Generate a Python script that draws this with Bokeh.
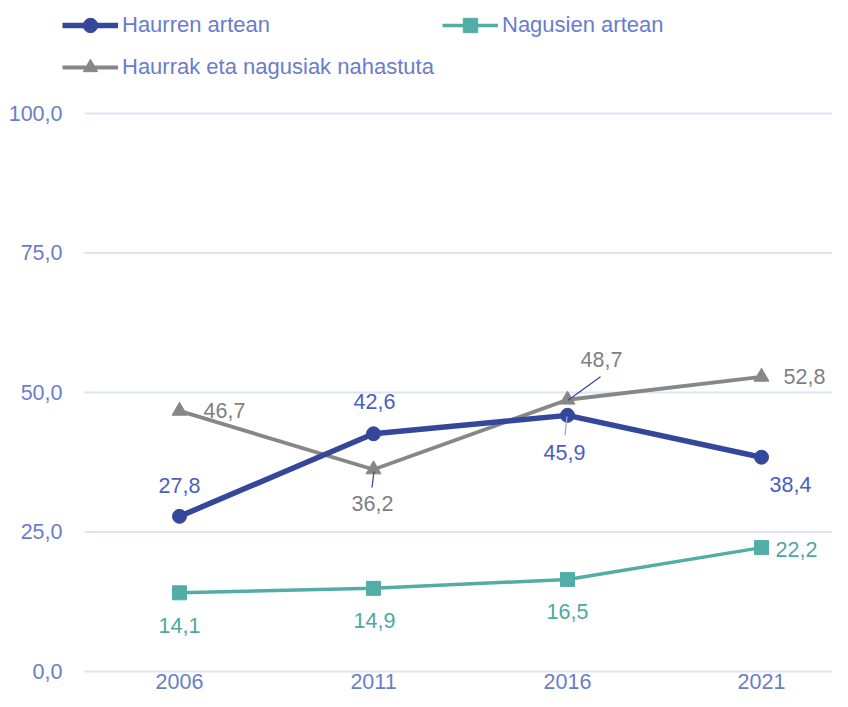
from bokeh.plotting import figure
from bokeh.models import Range1d, FixedTicker, Legend, LegendItem, ColumnDataSource
from bokeh.embed import file_html
from bokeh.resources import INLINE

# ---- data ----
years = ["2006", "2011", "2016", "2021"]
haurren = [27.8, 42.6, 45.9, 38.4]
nagusien = [14.1, 14.9, 16.5, 22.2]
nahastuta = [46.7, 36.2, 48.7, 52.8]
y_ticks = [0, 25, 50, 75, 100]
series_names = ["Haurren artean", "Nagusien artean", "Haurrak eta nagusiak nahastuta"]

# ---- styles ----
FONT = "Liberation Sans"
FS = "21.5px"
C_BLUE = "#34479a"
C_TEAL = "#52ada6"
C_GRAY = "#878787"
L_BLUE = "#4a5fbf"
L_TEAL = "#4ea9a0"
L_GRAY = "#7f7f7f"
TICK_C = "#6a7ccc"
GRID_C = "#dfe3f5"

LEFT, RIGHT, TOP, BOTTOM = 62, 0, 0, 26
FRAME_W, FRAME_H = 832 - LEFT, 673
STEP = 194.0                       # px per category
grid_x0 = -95 / STEP               # gridlines start 95px left of the first category
x0r = grid_x0 - 22 / STEP
x1r = x0r + FRAME_W / STEP
y0r, y1r = -0.36, 120.25
px_x = FRAME_W / (x1r - x0r)
px_y = FRAME_H / (y1r - y0r)

xs = list(range(len(years)))

p = figure(frame_width=FRAME_W, frame_height=FRAME_H, output_backend="svg",
           toolbar_location=None,
           x_range=Range1d(x0r, x1r), y_range=Range1d(y0r, y1r),
           min_border_left=LEFT, min_border_right=RIGHT,
           min_border_top=TOP, min_border_bottom=BOTTOM)
p.outline_line_color = None
p.background_fill_color = "white"

# axes
p.xaxis.ticker = FixedTicker(ticks=xs)
p.xaxis.major_label_overrides = {i: y for i, y in enumerate(years)}
p.yaxis.ticker = FixedTicker(ticks=y_ticks)
p.yaxis.major_label_overrides = {t: f"{t:.1f}".replace(".", ",") for t in y_ticks}
for ax in (p.xaxis, p.yaxis):
    ax.axis_line_color = None
    ax.major_tick_line_color = None
    ax.minor_tick_line_color = None
    ax.major_tick_out = 0
    ax.major_tick_in = 0
    ax.minor_tick_out = 0
    ax.major_label_text_font = FONT
    ax.major_label_text_font_size = FS
    ax.major_label_text_color = TICK_C
p.yaxis.major_label_standoff = 0
p.xaxis.major_label_standoff = 0
p.xgrid.grid_line_color = None
p.ygrid.grid_line_color = None

# horizontal gridlines at the y ticks
p.segment(x0=[grid_x0] * len(y_ticks), y0=y_ticks, x1=[x1r] * len(y_ticks), y1=y_ticks,
          line_color=GRID_C, line_width=2)

# series
r_gl = p.line(xs, nahastuta, line_color=C_GRAY, line_width=3.8)
r_gm = p.scatter(xs, nahastuta, marker="triangle", size=15, fill_color=C_GRAY, line_color=C_GRAY)
r_tl = p.line(xs, nagusien, line_color=C_TEAL, line_width=3.5)
r_tm = p.scatter(xs, nagusien, marker="square", size=14, fill_color=C_TEAL, line_color=C_TEAL)
r_bl = p.line(xs, haurren, line_color=C_BLUE, line_width=5.5)
r_bm = p.scatter(xs, haurren, marker="circle", size=14, fill_color=C_BLUE, line_color=C_BLUE)

# data labels (pixel offsets from the points)
def labels(vals, dx, dy, color):
    src = ColumnDataSource(dict(x=xs, y=vals,
                                t=[f"{v:.1f}".replace(".", ",") for v in vals],
                                dx=dx, dy=dy))
    p.text(x="x", y="y", text="t", x_offset="dx", y_offset="dy", source=src,
           text_align="center", text_baseline="middle",
           text_font={"value": FONT}, text_font_size={"value": FS}, text_color=color)

labels(haurren, [0, 1, -3, 29], [-31, -32, 37, 27], L_BLUE)
labels(nagusien, [0, 1, 0, 35], [33, 32, 32, 2], L_TEAL)
labels(nahastuta, [45, -1, 34, 43], [0, 34, -40, 0], L_GRAY)

# leader lines (pixel offsets from the points)
def leader(i, vals, a, b, color):
    v = vals[i]
    p.line([i + a[0] / px_x, i + b[0] / px_x], [v - a[1] / px_y, v - b[1] / px_y],
           line_color=color, line_width=1.3)

leader(1, nahastuta, (-1.5, 18), (0.5, 2), C_BLUE)
leader(2, nahastuta, (33, -23), (0.5, 0.5), C_BLUE)
leader(2, haurren, (-2.5, 20), (-0.5, 1), "#9aa8e0")

# legend: top-left corner at figure (LEFT, 7); tuple gives bottom-left in frame view coords
GH, SP = 36, 6
LEG_H = 2 * GH + SP
leg_top = 7
vy = (TOP + FRAME_H) - (leg_top + LEG_H)
legend = Legend(items=[
    LegendItem(label=series_names[0], renderers=[r_bl, r_bm]),
    LegendItem(label=series_names[1], renderers=[r_tl, r_tm]),
    LegendItem(label=series_names[2], renderers=[r_gl, r_gm]),
], location=(0, vy), orientation="horizontal", ncols=2,
    glyph_width=56, glyph_height=GH, label_height=GH, label_standoff=4, spacing=SP,
    label_width=314,
    padding=0, margin=0, border_line_alpha=0, background_fill_alpha=0,
    label_text_font=FONT, label_text_font_size="22px", label_text_color=TICK_C)
p.add_layout(legend, "center")

open("out.html", "w").write(file_html(p, INLINE))
